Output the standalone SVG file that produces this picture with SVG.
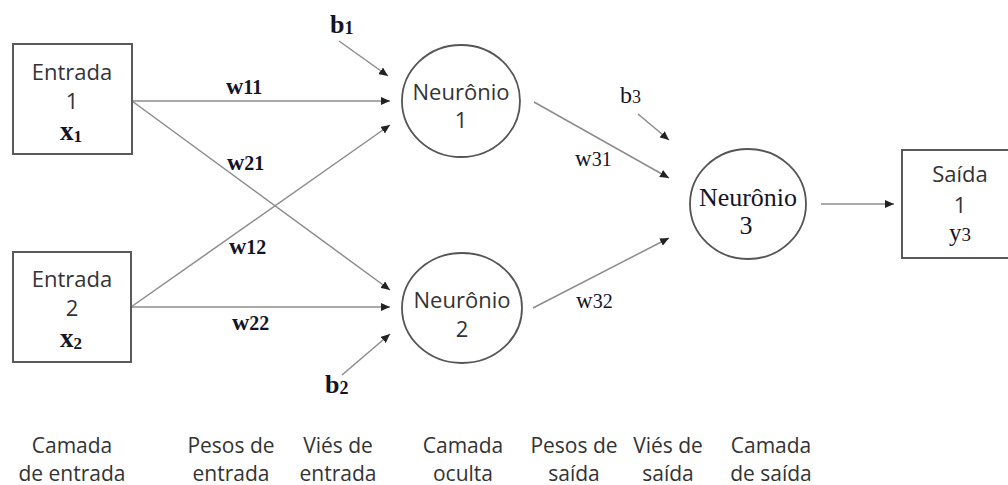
<svg xmlns="http://www.w3.org/2000/svg" width="1008" height="485" viewBox="0 0 1008 485">
<style>
.box{fill:#fff;stroke:#5a5a5a;stroke-width:2}
.neu{fill:#fff;stroke:#555;stroke-width:1.8}
.sans{font-family:"Open Sans","Liberation Sans",sans-serif;font-size:22px;font-weight:500;fill:#333;text-anchor:middle}
.lab{font-family:"Open Sans","Liberation Sans",sans-serif;font-size:21px;font-weight:500;fill:#333;text-anchor:middle}
.serb{font-family:"Liberation Serif","Times New Roman",serif;font-weight:bold;fill:#141428}
.ser{font-family:"Liberation Serif","Times New Roman",serif;fill:#141428}
.con{stroke:#8c8c8c;stroke-width:1.5;fill:none;marker-end:url(#ah)}
</style>
<defs>
<marker id="ah" markerUnits="userSpaceOnUse" markerWidth="10" markerHeight="8" refX="9" refY="4" orient="auto">
<path d="M0,0 L9,4 L0,8 Z" fill="#222"/>
</marker>
</defs>
<rect width="1008" height="485" fill="#fff"/>
<g id="connectors">
<line class="con" x1="132" y1="101" x2="390" y2="101"/>
<line class="con" x1="132" y1="101" x2="390" y2="290"/>
<line class="con" x1="131" y1="307" x2="390" y2="125"/>
<line class="con" x1="131" y1="307" x2="390" y2="307"/>
<line class="con" x1="339" y1="41" x2="388" y2="76"/>
<line class="con" x1="342" y1="375" x2="390" y2="334"/>
<line class="con" x1="534" y1="102" x2="669" y2="178"/>
<line class="con" x1="533" y1="308" x2="669" y2="238"/>
<line class="con" x1="638" y1="114" x2="669" y2="140"/>
<line class="con" x1="821" y1="204" x2="894" y2="204"/>
<text class="serb" x="330" y="33" font-size="26">b<tspan font-size="18" dy="1">1</tspan></text>
<text class="serb" x="226" y="94" font-size="24">w<tspan font-size="20">11</tspan></text>
<text class="serb" x="227" y="170" font-size="24">w<tspan font-size="20">21</tspan></text>
<text class="serb" x="229" y="254" font-size="24">w<tspan font-size="20">12</tspan></text>
<text class="serb" x="232" y="330" font-size="24">w<tspan font-size="20">22</tspan></text>
<text class="serb" x="325" y="393" font-size="26">b<tspan font-size="18" dy="1">2</tspan></text>
<text class="ser" x="620" y="103" font-size="24">b<tspan font-size="18">3</tspan></text>
<text class="ser" x="575" y="166" font-size="23">w<tspan font-size="20">31</tspan></text>
<text class="ser" x="576" y="308" font-size="23">w<tspan font-size="20">32</tspan></text>
</g>
<g id="entrada1">
<rect class="box" x="13" y="44" width="119" height="110"/>
<text class="sans" x="72" y="80">Entrada</text>
<text class="sans" x="72" y="109">1</text>
<text class="serb" x="60" y="140" font-size="27">x<tspan font-size="17" dy="2">1</tspan></text>
</g>
<g id="entrada2">
<rect class="box" x="13" y="252" width="118" height="110"/>
<text class="sans" x="72" y="287">Entrada</text>
<text class="sans" x="72" y="316">2</text>
<text class="serb" x="60" y="347" font-size="27">x<tspan font-size="17" dy="2">2</tspan></text>
</g>
<g id="neuronio1">
<ellipse class="neu" cx="461" cy="101" rx="59" ry="56"/>
<text class="sans" x="461" y="100">Neurônio</text>
<text class="sans" x="461" y="128">1</text>
</g>
<g id="neuronio2">
<ellipse class="neu" cx="462" cy="308" rx="60" ry="55"/>
<text class="sans" x="462" y="308">Neurônio</text>
<text class="sans" x="462" y="337">2</text>
</g>
<g id="neuronio3">
<ellipse class="neu" cx="748" cy="204" rx="58" ry="55"/>
<text class="ser" x="748" y="206" font-size="26" text-anchor="middle">Neurônio</text>
<text class="ser" x="746" y="234" font-size="26" text-anchor="middle">3</text>
</g>
<g id="saida">
<rect class="box" x="902" y="150" width="130" height="108"/>
<text class="sans" x="960" y="182">Saída</text>
<text class="sans" x="960" y="213">1</text>
<text class="ser" x="960" y="241" font-size="25" text-anchor="middle">y<tspan font-size="19">3</tspan></text>
</g>
<g id="labels">
<text class="lab" x="72" y="453">Camada</text>
<text class="lab" x="72" y="481">de entrada</text>
<text class="lab" x="231" y="453">Pesos de</text>
<text class="lab" x="231" y="481">entrada</text>
<text class="lab" x="338" y="453">Viés de</text>
<text class="lab" x="338" y="481">entrada</text>
<text class="lab" x="463" y="453">Camada</text>
<text class="lab" x="463" y="481">oculta</text>
<text class="lab" x="574" y="453">Pesos de</text>
<text class="lab" x="574" y="481">saída</text>
<text class="lab" x="668" y="453">Viés de</text>
<text class="lab" x="668" y="481">saída</text>
<text class="lab" x="771" y="453">Camada</text>
<text class="lab" x="771" y="481">de saída</text>
</g>
</svg>
